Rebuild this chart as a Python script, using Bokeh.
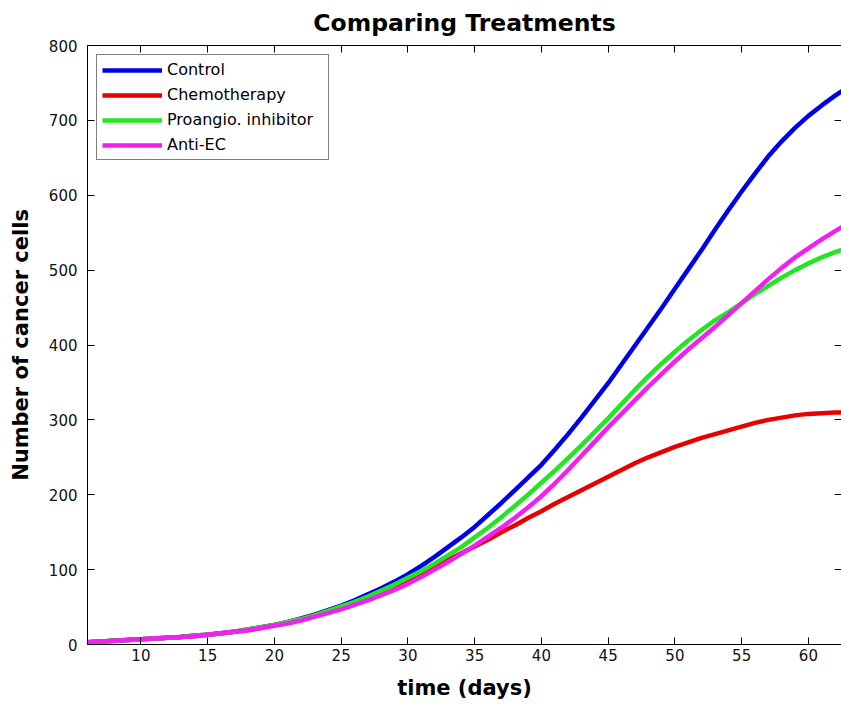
from bokeh.plotting import figure
from bokeh.models import (LinearAxis, FixedTicker, Range1d, Legend, LegendItem,
                          CustomJSTickFormatter)
from bokeh.embed import file_html
from bokeh.resources import INLINE

# Simulated tumour growth under each treatment, one value per day (days 6..63)
days = list(range(6, 64))
control = [3, 4, 5, 6, 7, 8, 9, 10, 12, 13, 15, 17, 20, 23, 26, 30, 35, 40, 46, 52,
           59, 67, 75, 84, 94, 105, 117, 130, 143, 157, 173, 189, 206, 223, 240, 260,
           281, 303, 326, 349, 374, 399, 424, 449, 475, 501, 527, 554, 580, 605, 629,
           652, 672, 690, 706, 720, 733, 745]
chemotherapy = [3, 4, 5, 6, 7, 8, 9, 10, 11, 13, 15, 17, 19, 22, 26, 29, 34, 39, 44, 50,
                56, 63, 70, 78, 86, 95, 104, 113, 122, 131, 140, 150, 159, 169, 178, 188,
                197, 206, 215, 224, 233, 242, 250, 257, 264, 270, 276, 281, 286, 291, 296,
                300, 303, 306, 308, 309, 310, 310]
proangio_inhibitor = [3, 4, 5, 6, 7, 8, 9, 10, 12, 13, 15, 17, 20, 23, 26, 30, 34, 39, 45,
                      51, 57, 64, 72, 80, 89, 98, 108, 119, 130, 143, 156, 170, 185, 200,
                      216, 232, 249, 266, 284, 302, 321, 340, 358, 375, 391, 406, 420, 433,
                      444, 456, 468, 479, 490, 500, 509, 517, 524, 530]
anti_ec = [3, 4, 5, 6, 7, 8, 9, 10, 11, 13, 15, 17, 19, 22, 25, 28, 32, 37, 42, 47,
           53, 59, 66, 73, 81, 90, 100, 110, 121, 132, 144, 156, 169, 183, 198, 215,
           233, 252, 271, 290, 308, 326, 344, 361, 378, 394, 409, 424, 440, 456, 472,
           488, 503, 517, 529, 541, 552, 563]

series_names = ["Control", "Chemotherapy", "Proangio. inhibitor", "Anti-EC"]
series_colors = ["#0000e6", "#e60000", "#22e622", "#f020f0"]

x_ticks = [10, 15, 20, 25, 30, 35, 40, 45, 50, 55, 60]
y_ticks = [0, 100, 200, 300, 400, 500, 600, 700, 800]

FONT = "DejaVu Sans"

p = figure(width=841, height=707,
           x_range=Range1d(6, 62.48), y_range=Range1d(0, 800),
           output_backend="svg", toolbar_location=None,
           min_border_left=87, min_border_right=0,
           min_border_top=45, min_border_bottom=63)

p.background_fill_color = "white"
p.border_fill_color = "white"
p.outline_line_color = None
p.xgrid.visible = False
p.ygrid.visible = False

p.title.text = "Comparing Treatments"
p.title.align = "center"
p.title.vertical_align = "top"
p.title.text_font = FONT
p.title.text_font_style = "bold"
p.title.text_font_size = "23.5px"
p.title.text_color = "black"
p.title.standoff = 14


def style_axis(ax, ticks):
    ax.ticker = FixedTicker(ticks=ticks)
    ax.axis_line_color = "black"
    ax.axis_line_width = 1
    ax.major_tick_line_color = "black"
    ax.major_tick_in = 7
    ax.major_tick_out = 0
    ax.minor_tick_line_color = None
    ax.major_label_text_font = FONT
    ax.major_label_text_font_size = "15px"
    ax.major_label_text_color = "#111111"
    ax.axis_label_text_font = FONT
    ax.axis_label_text_font_style = "bold"
    ax.axis_label_text_font_size = "21px"
    ax.axis_label_text_color = "black"


xa = p.xaxis[0]
style_axis(xa, x_ticks)
xa.axis_label = "time (days)"
xa.major_label_standoff = 4
xa.axis_label_standoff = 12

ya = p.yaxis[0]
style_axis(ya, y_ticks)
ya.axis_label = "Number of cancer cells"
ya.major_label_standoff = 10
ya.axis_label_standoff = 13

blank = CustomJSTickFormatter(code="return '';")

# Frame ticks on the top and right edges, without labels
top_axis = LinearAxis()
style_axis(top_axis, x_ticks)
top_axis.formatter = blank
top_axis.major_label_standoff = 0
top_axis.axis_label_standoff = 0
top_axis.major_label_text_font_size = "0px"
p.add_layout(top_axis, "above")

right_axis = LinearAxis()
style_axis(right_axis, y_ticks)
right_axis.formatter = blank
right_axis.axis_line_color = None
right_axis.major_label_standoff = 0
right_axis.axis_label_standoff = 0
right_axis.major_label_text_font_size = "0px"
p.add_layout(right_axis, "right")

series = [control, chemotherapy, proangio_inhibitor, anti_ec]
items = []
for name, color, values in zip(series_names, series_colors, series):
    r = p.line(days, values, line_color=color, line_width=4.5, line_join="round")
    items.append(LegendItem(label=name, renderers=[r]))

legend = Legend(items=items, location="top_left", margin=9)
legend.padding = 5
legend.spacing = 6
legend.glyph_width = 60
legend.glyph_height = 18
legend.label_height = 18
legend.label_width = 156
legend.label_standoff = 5
legend.label_text_font = FONT
legend.label_text_font_size = "16px"
legend.label_text_color = "black"
legend.border_line_color = "black"
legend.border_line_width = 1
legend.background_fill_color = "white"
legend.background_fill_alpha = 1.0
p.add_layout(legend)

open("out.html", "w").write(file_html(p, INLINE))
